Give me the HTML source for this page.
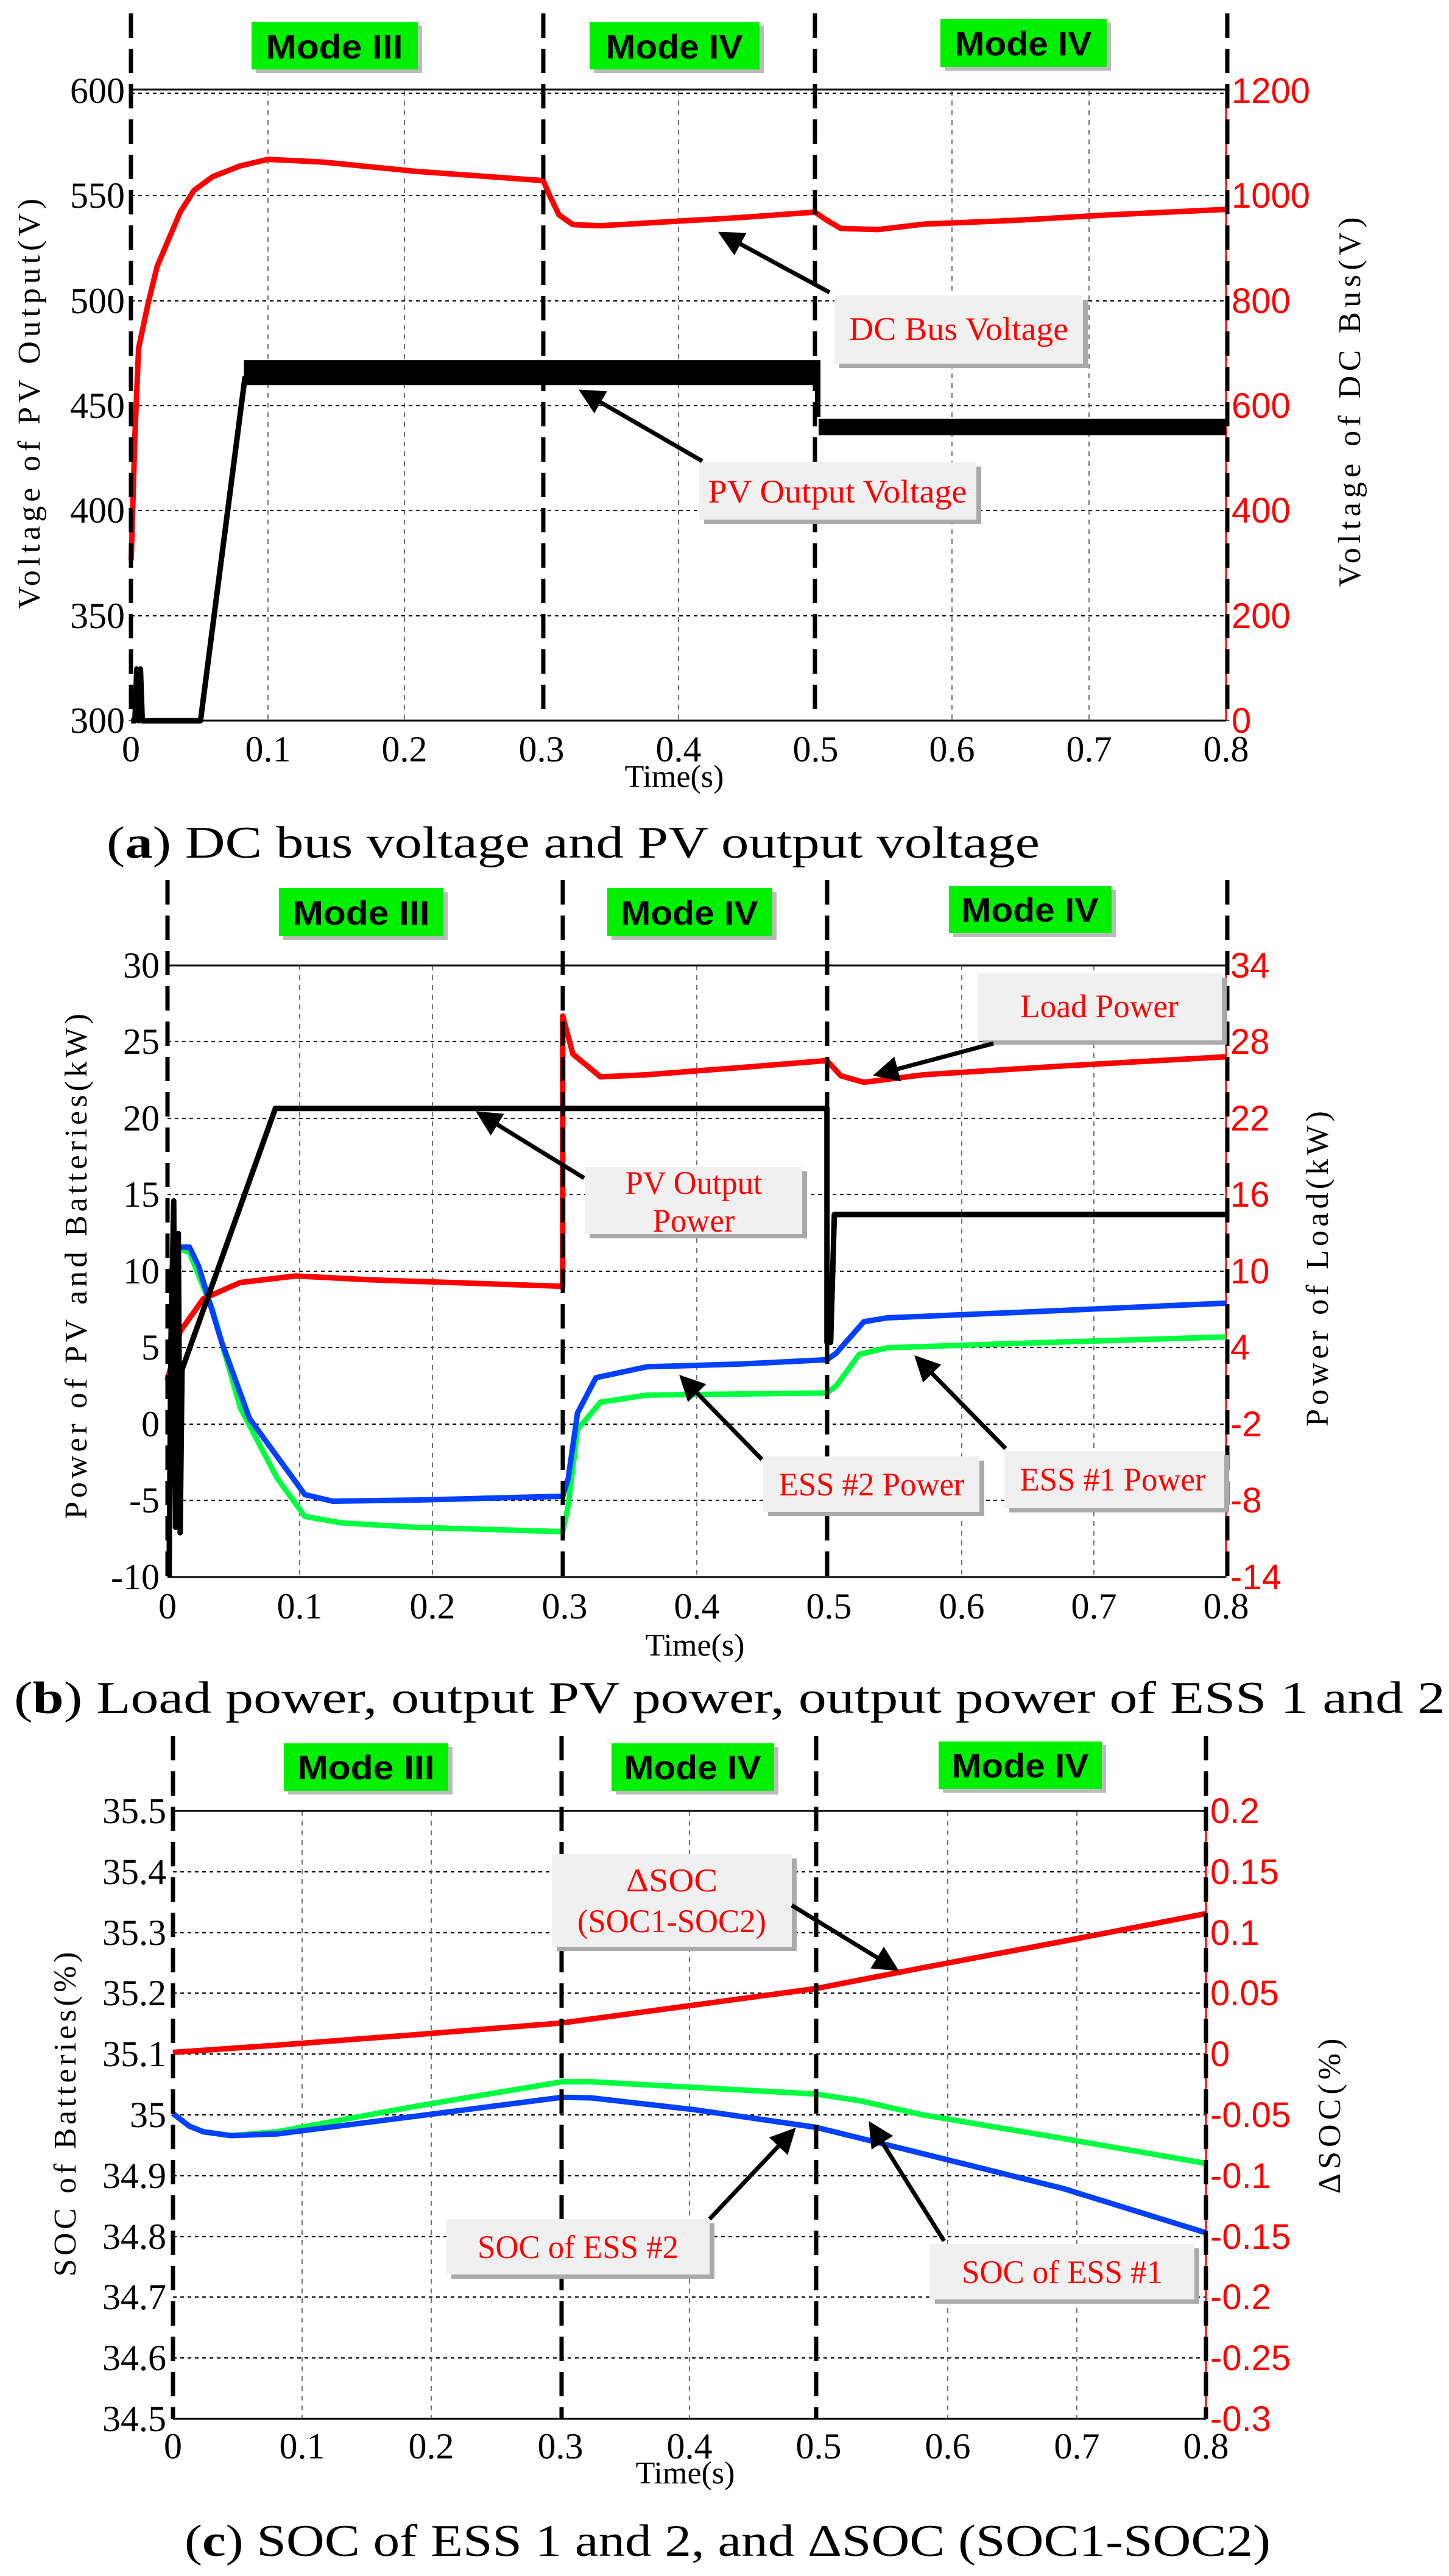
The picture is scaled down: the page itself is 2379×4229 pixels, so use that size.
<!DOCTYPE html>
<html><head><meta charset="utf-8"><style>
html,body{margin:0;padding:0;background:#fff}
svg{display:block}
.tl{font-family:"Liberation Serif",serif;font-size:60px;fill:#000}
.tr{font-family:"Liberation Sans",sans-serif;font-size:58px;fill:#f00}
.ax{font-family:"Liberation Serif",serif;font-size:52px;fill:#000}
.md{font-family:"Liberation Sans",sans-serif;font-weight:bold;font-size:56px;fill:#000}
.an{font-family:"Liberation Serif",serif;font-size:54px;fill:#f00}
.cap{font-family:"Liberation Serif",serif;font-size:74px;fill:#000}
</style></head><body>
<svg width="2379" height="4229" viewBox="0 0 2379 4229" xmlns="http://www.w3.org/2000/svg">
<defs>
<marker id="ah" markerWidth="6" markerHeight="6" refX="5" refY="3" orient="auto" markerUnits="strokeWidth"><path d="M0,0 L6,3 L0,6 z" fill="#000"/></marker>
</defs>

<!-- ================= PANEL A ================= -->
<g>
<rect x="215" y="149" width="1798" height="1034" fill="#fff"/>
<g stroke="#000" stroke-width="2" stroke-dasharray="6,6">
<line x1="215" y1="321" x2="2013" y2="321"/><line x1="215" y1="494" x2="2013" y2="494"/><line x1="215" y1="666" x2="2013" y2="666"/><line x1="215" y1="838" x2="2013" y2="838"/><line x1="215" y1="1011" x2="2013" y2="1011"/><line x1="215" y1="153" x2="2013" y2="153"/>
</g>
<g stroke="#444" stroke-width="1.5" stroke-dasharray="8,8">
<line x1="440" y1="149" x2="440" y2="1183"/><line x1="664" y1="149" x2="664" y2="1183"/><line x1="1114" y1="149" x2="1114" y2="1183"/><line x1="1563" y1="149" x2="1563" y2="1183"/><line x1="1788" y1="149" x2="1788" y2="1183"/>
</g>
<line x1="215" y1="147" x2="2013" y2="147" stroke="#000" stroke-width="3"/>
<line x1="215" y1="1183" x2="2013" y2="1183" stroke="#000" stroke-width="3"/>
<line x1="2013" y1="149" x2="2013" y2="1183" stroke="#f00" stroke-width="3"/>
<g transform="scale(1.517,0.893)" fill="none" stroke-linejoin="round">
<polyline vector-effect="non-scaling-stroke" stroke="#f00" stroke-width="9" points="142,1030 146,800 150,640 160,560 170,490 180,450 195,390 210,350 230,325 260,305 290,293 350,298 450,315 588,332 595,360 605,395 620,413 650,415 700,410 800,400 882,390 895,405 910,420 950,422 1000,412 1100,405 1200,395 1327,385"/>
<polyline vector-effect="non-scaling-stroke" stroke="#000" stroke-width="9" points="142,1325 146,1325 148,1230 150,1325 152,1230 154,1325 217,1325 265,695 270,690"/>
</g>
<g transform="scale(1.517,0.893)">
<rect x="264" y="662" width="618" height="46" fill="#000"/>
<rect x="882" y="662" width="6" height="105" fill="#000"/>
<rect x="886" y="770" width="441" height="30" fill="#000"/>
</g>
<g stroke="#000" stroke-width="7" stroke-dasharray="40,18">
<line x1="215" y1="22" x2="215" y2="1183"/><line x1="892" y1="22" x2="892" y2="1183"/><line x1="1338" y1="22" x2="1338" y2="1183"/><line x1="2015" y1="22" x2="2015" y2="1183"/>
</g>
<rect x="420" y="42" width="273" height="78" fill="#bbb"/><rect x="413" y="36" width="273" height="78" fill="#00f000"/>
<text class="md" x="549" y="96" text-anchor="middle" textLength="225" lengthAdjust="spacingAndGlyphs">Mode III</text>
<rect x="975" y="42" width="279" height="78" fill="#bbb"/><rect x="968" y="36" width="279" height="78" fill="#00f000"/>
<text class="md" x="1107" y="96" text-anchor="middle" textLength="225" lengthAdjust="spacingAndGlyphs">Mode IV</text>
<rect x="1551" y="37" width="273" height="79" fill="#bbb"/><rect x="1544" y="31" width="273" height="79" fill="#00f000"/>
<text class="md" x="1680" y="91" text-anchor="middle" textLength="225" lengthAdjust="spacingAndGlyphs">Mode IV</text>
<g class="tl" text-anchor="end">
<text x="205" y="169">600</text><text x="205" y="341">550</text><text x="205" y="514">500</text><text x="205" y="686">450</text><text x="205" y="858">400</text><text x="205" y="1031">350</text><text x="205" y="1203">300</text>
</g>
<g class="tr">
<text x="2022" y="169">1200</text><text x="2022" y="341">1000</text><text x="2022" y="514">800</text><text x="2022" y="686">600</text><text x="2022" y="858">400</text><text x="2022" y="1031">200</text><text x="2022" y="1203">0</text>
</g>
<g class="tl" text-anchor="middle">
<text x="215" y="1250">0</text><text x="440" y="1250">0.1</text><text x="664" y="1250">0.2</text><text x="889" y="1250">0.3</text><text x="1114" y="1250">0.4</text><text x="1339" y="1250">0.5</text><text x="1563" y="1250">0.6</text><text x="1788" y="1250">0.7</text><text x="2013" y="1250">0.8</text>
</g>
<text class="ax" x="1107" y="1292" text-anchor="middle" font-size="58">Time(s)</text>
<text class="ax" transform="translate(65,663) rotate(-90)" text-anchor="middle" textLength="674" lengthAdjust="spacing">Voltage of PV Output(V)</text>
<text class="ax" transform="translate(2233,660) rotate(-90)" text-anchor="middle" textLength="607" lengthAdjust="spacing">Voltage of DC Bus(V)</text>
<rect x="1378" y="492" width="408" height="112" fill="#aaa"/><rect x="1370" y="485" width="408" height="112" fill="#f0f0f0"/>
<text class="an" x="1574" y="558" text-anchor="middle" textLength="360" lengthAdjust="spacingAndGlyphs">DC Bus Voltage</text>
<line x1="1362" y1="480" x2="1185" y2="384" stroke="#000" stroke-width="7" marker-end="url(#ah)"/>
<rect x="1156" y="766" width="455" height="94" fill="#aaa"/><rect x="1148" y="759" width="455" height="94" fill="#f0f0f0"/>
<text class="an" x="1375" y="825" text-anchor="middle" textLength="425" lengthAdjust="spacingAndGlyphs">PV Output Voltage</text>
<line x1="1153" y1="757" x2="956" y2="643" stroke="#000" stroke-width="7" marker-end="url(#ah)"/>
<text class="cap" x="175" y="1408" textLength="1532" lengthAdjust="spacingAndGlyphs">(<tspan font-weight="bold">a</tspan>) DC bus voltage and PV output voltage</text>
</g>

<!-- ================= PANEL B ================= -->
<g>
<g stroke="#000" stroke-width="2" stroke-dasharray="6,6">
<line x1="275" y1="1710" x2="2013" y2="1710"/><line x1="275" y1="1836" x2="2013" y2="1836"/><line x1="275" y1="1961" x2="2013" y2="1961"/><line x1="275" y1="2087" x2="2013" y2="2087"/><line x1="275" y1="2212" x2="2013" y2="2212"/><line x1="275" y1="2338" x2="2013" y2="2338"/><line x1="275" y1="2463" x2="2013" y2="2463"/>
</g>
<g stroke="#444" stroke-width="1.5" stroke-dasharray="8,8">
<line x1="492" y1="1585" x2="492" y2="2589"/><line x1="710" y1="1585" x2="710" y2="2589"/><line x1="1144" y1="1585" x2="1144" y2="2589"/><line x1="1579" y1="1585" x2="1579" y2="2589"/><line x1="1796" y1="1585" x2="1796" y2="2589"/>
</g>
<line x1="275" y1="1585" x2="2013" y2="1585" stroke="#000" stroke-width="3"/>
<line x1="275" y1="2589" x2="2013" y2="2589" stroke="#000" stroke-width="3"/>
<line x1="2013" y1="1585" x2="2013" y2="2589" stroke="#f00" stroke-width="3"/>
<g transform="translate(0,1400) scale(1.517,0.893)" fill="none" stroke-linejoin="round">
<polyline vector-effect="non-scaling-stroke" stroke="#00ff40" stroke-width="9" points="183,800 190,725 205,735 230,840 260,1020 300,1150 330,1220 370,1232 450,1240 609,1248 615,1200 625,1060 650,1010 700,997 800,995 895,993 905,980 930,922 960,910 1100,902 1327,890"/>
<polyline vector-effect="non-scaling-stroke" stroke="#0040ff" stroke-width="9" points="183,800 190,725 205,725 215,760 240,900 270,1040 300,1110 330,1180 360,1192 450,1190 609,1183 615,1150 625,1030 645,965 700,945 800,940 895,932 905,920 935,862 960,855 1100,845 1327,828"/>
<polyline vector-effect="non-scaling-stroke" stroke="#f00" stroke-width="9" points="181,970 195,880 220,820 260,790 320,778 400,785 609,797 609,300 620,370 650,412 700,408 800,395 895,382 910,410 935,422 1000,408 1150,392 1327,375"/>
<polyline vector-effect="non-scaling-stroke" stroke="#000" stroke-width="9" points="183,1330 185,900 188,640 190,1240 193,700 195,1250 197,950 298,470 895,470 895,900 899,900 903,665 1327,665"/>
</g>
<g stroke="#000" stroke-width="7" stroke-dasharray="40,18">
<line x1="275" y1="1445" x2="275" y2="2589"/><line x1="924" y1="1445" x2="924" y2="2589"/><line x1="1358" y1="1445" x2="1358" y2="2589"/><line x1="2015" y1="1445" x2="2015" y2="2589"/>
</g>
<rect x="465" y="1464" width="270" height="79" fill="#bbb"/><rect x="458" y="1458" width="270" height="79" fill="#00f000"/>
<text class="md" x="593" y="1518" text-anchor="middle" textLength="225" lengthAdjust="spacingAndGlyphs">Mode III</text>
<rect x="1004" y="1464" width="271" height="79" fill="#bbb"/><rect x="997" y="1458" width="271" height="79" fill="#00f000"/>
<text class="md" x="1132" y="1518" text-anchor="middle" textLength="225" lengthAdjust="spacingAndGlyphs">Mode IV</text>
<rect x="1565" y="1461" width="267" height="77" fill="#bbb"/><rect x="1558" y="1455" width="267" height="77" fill="#00f000"/>
<text class="md" x="1691" y="1513" text-anchor="middle" textLength="225" lengthAdjust="spacingAndGlyphs">Mode IV</text>
<g class="tl" text-anchor="end">
<text x="262" y="1605">30</text><text x="262" y="1730">25</text><text x="262" y="1856">20</text><text x="262" y="1981">15</text><text x="262" y="2107">10</text><text x="262" y="2232">5</text><text x="262" y="2358">0</text><text x="262" y="2483">-5</text><text x="262" y="2609">-10</text>
</g>
<g class="tr">
<text x="2020" y="1605">34</text><text x="2020" y="1730">28</text><text x="2020" y="1856">22</text><text x="2020" y="1981">16</text><text x="2020" y="2107">10</text><text x="2020" y="2232">4</text><text x="2020" y="2358">-2</text><text x="2020" y="2483">-8</text><text x="2020" y="2609">-14</text>
</g>
<g class="tl" text-anchor="middle">
<text x="275" y="2657">0</text><text x="492" y="2657">0.1</text><text x="710" y="2657">0.2</text><text x="927" y="2657">0.3</text><text x="1144" y="2657">0.4</text><text x="1361" y="2657">0.5</text><text x="1579" y="2657">0.6</text><text x="1796" y="2657">0.7</text><text x="2013" y="2657">0.8</text>
</g>
<text class="ax" x="1141" y="2718" text-anchor="middle" font-size="58">Time(s)</text>
<text class="ax" transform="translate(142,2079) rotate(-90)" text-anchor="middle" textLength="830" lengthAdjust="spacing">Power of PV and Batteries(kW)</text>
<text class="ax" transform="translate(2180,2083) rotate(-90)" text-anchor="middle" textLength="518" lengthAdjust="spacing">Power of Load(kW)</text>
<rect x="1613" y="1605" width="401" height="110" fill="#aaa"/><rect x="1605" y="1598" width="401" height="110" fill="#f0f0f0"/>
<text class="an" x="1805" y="1670" text-anchor="middle" textLength="260" lengthAdjust="spacingAndGlyphs">Load Power</text>
<line x1="1631" y1="1713" x2="1440" y2="1764" stroke="#000" stroke-width="7" marker-end="url(#ah)"/>
<rect x="968" y="1923" width="357" height="110" fill="#aaa"/><rect x="960" y="1916" width="357" height="110" fill="#f0f0f0"/>
<text class="an" x="1139" y="1960" text-anchor="middle" textLength="225" lengthAdjust="spacingAndGlyphs">PV Output</text>
<text class="an" x="1139" y="2022" text-anchor="middle" textLength="135" lengthAdjust="spacingAndGlyphs">Power</text>
<line x1="959" y1="1934" x2="787" y2="1828" stroke="#000" stroke-width="7" marker-end="url(#ah)"/>
<rect x="1261" y="2398" width="355" height="91" fill="#aaa"/><rect x="1253" y="2391" width="355" height="91" fill="#f0f0f0"/>
<text class="an" x="1431" y="2455" text-anchor="middle" textLength="305" lengthAdjust="spacingAndGlyphs">ESS #2 Power</text>
<line x1="1251" y1="2396" x2="1120" y2="2262" stroke="#000" stroke-width="7" marker-end="url(#ah)"/>
<rect x="1657" y="2389" width="361" height="94" fill="#aaa"/><rect x="1649" y="2382" width="361" height="94" fill="#f0f0f0"/>
<text class="an" x="1827" y="2447" text-anchor="middle" textLength="305" lengthAdjust="spacingAndGlyphs">ESS #1 Power</text>
<line x1="1651" y1="2378" x2="1506" y2="2230" stroke="#000" stroke-width="7" marker-end="url(#ah)"/>
<text class="cap" x="23" y="2812" textLength="2350" lengthAdjust="spacingAndGlyphs">(<tspan font-weight="bold">b</tspan>) Load power, output PV power, output power of ESS 1 and 2</text>
</g>

<!-- ================= PANEL C ================= -->
<g>
<g stroke="#000" stroke-width="2" stroke-dasharray="6,6">
<line x1="284" y1="3073" x2="1980" y2="3073"/><line x1="284" y1="3173" x2="1980" y2="3173"/><line x1="284" y1="3272" x2="1980" y2="3272"/><line x1="284" y1="3372" x2="1980" y2="3372"/><line x1="284" y1="3472" x2="1980" y2="3472"/><line x1="284" y1="3572" x2="1980" y2="3572"/><line x1="284" y1="3672" x2="1980" y2="3672"/><line x1="284" y1="3771" x2="1980" y2="3771"/><line x1="284" y1="3871" x2="1980" y2="3871"/>
</g>
<g stroke="#444" stroke-width="1.5" stroke-dasharray="8,8">
<line x1="496" y1="2973" x2="496" y2="3971"/><line x1="708" y1="2973" x2="708" y2="3971"/><line x1="1132" y1="2973" x2="1132" y2="3971"/><line x1="1556" y1="2973" x2="1556" y2="3971"/><line x1="1768" y1="2973" x2="1768" y2="3971"/>
</g>
<line x1="284" y1="2973" x2="1980" y2="2973" stroke="#000" stroke-width="3"/>
<line x1="284" y1="3971" x2="1980" y2="3971" stroke="#000" stroke-width="3"/>
<line x1="1980" y1="2973" x2="1980" y2="3971" stroke="#f00" stroke-width="3"/>
<g transform="translate(0,2800) scale(1.517,0.911)" fill="none" stroke-linejoin="round">
<polyline vector-effect="non-scaling-stroke" stroke="#f00" stroke-width="9" points="187,625 300,612 450,593 608,572 750,540 883,510 1000,472 1150,425 1305,375"/>
<polyline vector-effect="non-scaling-stroke" stroke="#00ff40" stroke-width="9" points="187,735 205,758 220,768 250,775 300,768 450,722 608,678 640,678 750,688 883,700 930,712 1000,738 1150,780 1305,825"/>
<polyline vector-effect="non-scaling-stroke" stroke="#0040ff" stroke-width="9" points="187,735 205,758 220,768 250,775 300,772 450,740 608,706 640,707 750,728 883,760 1000,808 1150,870 1305,950"/>
</g>
<g stroke="#000" stroke-width="7" stroke-dasharray="40,18">
<line x1="284" y1="2850" x2="284" y2="3971"/><line x1="922" y1="2850" x2="922" y2="3971"/><line x1="1340" y1="2850" x2="1340" y2="3971"/><line x1="1980" y1="2850" x2="1980" y2="3971"/>
</g>
<rect x="473" y="2868" width="270" height="78" fill="#bbb"/><rect x="466" y="2862" width="270" height="78" fill="#00f000"/>
<text class="md" x="601" y="2921" text-anchor="middle" textLength="225" lengthAdjust="spacingAndGlyphs">Mode III</text>
<rect x="1011" y="2868" width="267" height="78" fill="#bbb"/><rect x="1004" y="2862" width="267" height="78" fill="#00f000"/>
<text class="md" x="1137" y="2921" text-anchor="middle" textLength="225" lengthAdjust="spacingAndGlyphs">Mode IV</text>
<rect x="1548" y="2865" width="268" height="78" fill="#bbb"/><rect x="1541" y="2859" width="268" height="78" fill="#00f000"/>
<text class="md" x="1675" y="2918" text-anchor="middle" textLength="225" lengthAdjust="spacingAndGlyphs">Mode IV</text>
<g class="tl" text-anchor="end">
<text x="273" y="2993">35.5</text><text x="273" y="3093">35.4</text><text x="273" y="3193">35.3</text><text x="273" y="3292">35.2</text><text x="273" y="3392">35.1</text><text x="273" y="3492">35</text><text x="273" y="3592">34.9</text><text x="273" y="3692">34.8</text><text x="273" y="3791">34.7</text><text x="273" y="3891">34.6</text><text x="273" y="3991">34.5</text>
</g>
<g class="tr">
<text x="1987" y="2993">0.2</text><text x="1987" y="3093">0.15</text><text x="1987" y="3193">0.1</text><text x="1987" y="3292">0.05</text><text x="1987" y="3392">0</text><text x="1987" y="3492">-0.05</text><text x="1987" y="3592">-0.1</text><text x="1987" y="3692">-0.15</text><text x="1987" y="3791">-0.2</text><text x="1987" y="3891">-0.25</text><text x="1987" y="3991">-0.3</text>
</g>
<g class="tl" text-anchor="middle">
<text x="284" y="4036">0</text><text x="496" y="4036">0.1</text><text x="708" y="4036">0.2</text><text x="920" y="4036">0.3</text><text x="1132" y="4036">0.4</text><text x="1344" y="4036">0.5</text><text x="1556" y="4036">0.6</text><text x="1768" y="4036">0.7</text><text x="1980" y="4036">0.8</text>
</g>
<text class="ax" x="1125" y="4077" text-anchor="middle" font-size="58">Time(s)</text>
<text class="ax" transform="translate(124,3471) rotate(-90)" text-anchor="middle" textLength="533" lengthAdjust="spacing">SOC of Batteries(%)</text>
<text class="ax" transform="translate(2200,3474) rotate(-90)" text-anchor="middle" textLength="255" lengthAdjust="spacing">&#916;SOC(%)</text>
<rect x="914" y="3051" width="394" height="152" fill="#aaa"/><rect x="906" y="3044" width="394" height="152" fill="#f0f0f0"/>
<text class="an" x="1103" y="3105" text-anchor="middle" textLength="150" lengthAdjust="spacingAndGlyphs">&#916;SOC</text>
<text class="an" x="1103" y="3172" text-anchor="middle" textLength="310" lengthAdjust="spacingAndGlyphs">(SOC1-SOC2)</text>
<line x1="1300" y1="3128" x2="1470" y2="3232" stroke="#000" stroke-width="7" marker-end="url(#ah)"/>
<rect x="741" y="3650" width="432" height="91" fill="#aaa"/><rect x="733" y="3643" width="432" height="91" fill="#f0f0f0"/>
<text class="an" x="949" y="3707" text-anchor="middle" textLength="330" lengthAdjust="spacingAndGlyphs">SOC of ESS #2</text>
<line x1="1165" y1="3643" x2="1302" y2="3498" stroke="#000" stroke-width="7" marker-end="url(#ah)"/>
<rect x="1535" y="3691" width="434" height="91" fill="#aaa"/><rect x="1527" y="3684" width="434" height="91" fill="#f0f0f0"/>
<text class="an" x="1744" y="3748" text-anchor="middle" textLength="330" lengthAdjust="spacingAndGlyphs">SOC of ESS #1</text>
<line x1="1550" y1="3679" x2="1430" y2="3488" stroke="#000" stroke-width="7" marker-end="url(#ah)"/>
<text class="cap" x="303" y="4196" textLength="1783" lengthAdjust="spacingAndGlyphs">(<tspan font-weight="bold">c</tspan>) SOC of ESS 1 and 2, and &#916;SOC (SOC1-SOC2)</text>
</g>
</svg>
</body></html>
